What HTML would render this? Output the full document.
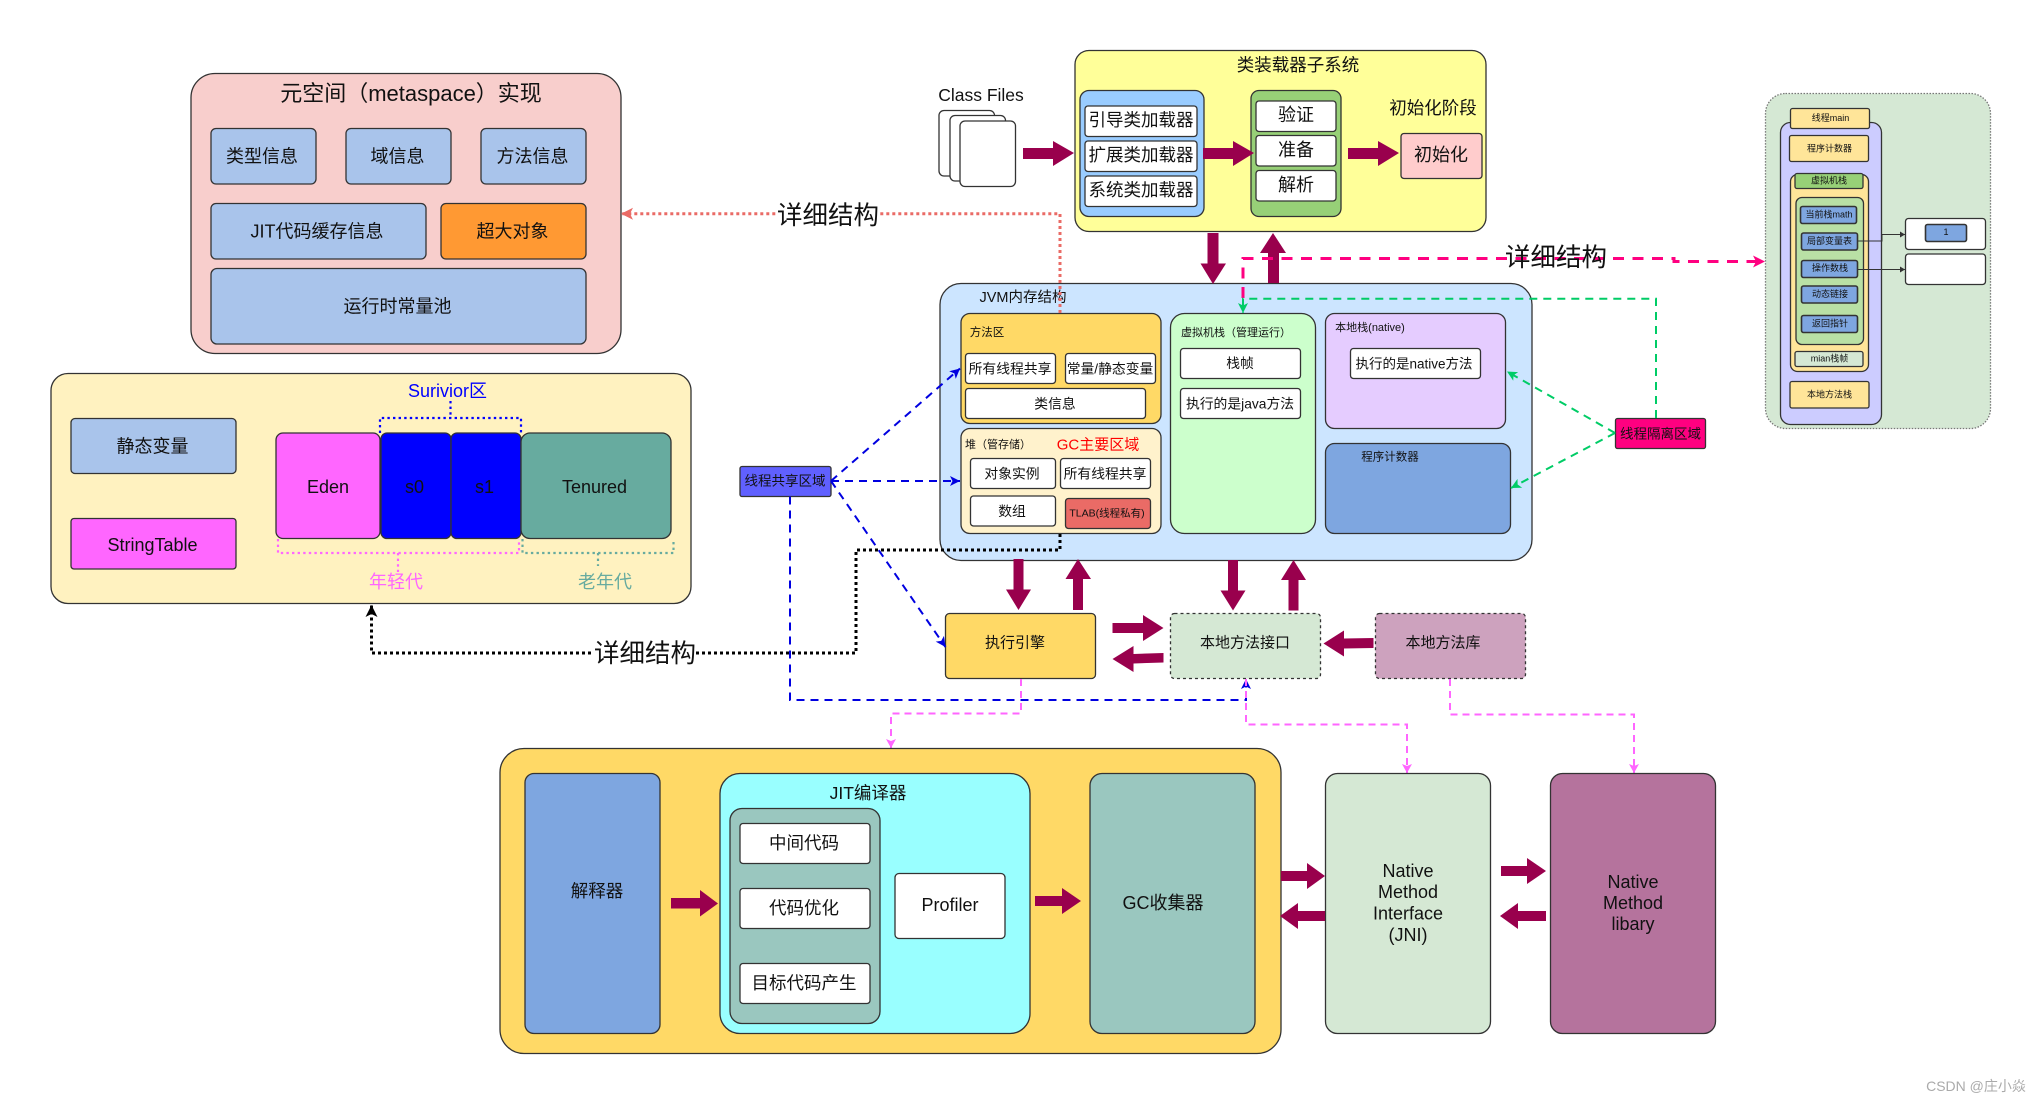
<!DOCTYPE html>
<html><head><meta charset="utf-8"><style>
html,body{margin:0;padding:0;background:#fff;width:2041px;height:1103px;overflow:hidden}
svg{display:block}
text{font-family:"Liberation Sans","Noto Sans CJK SC",sans-serif;text-anchor:middle;dominant-baseline:central;fill:#111}
rect{stroke:#333;stroke-width:1.3}
.a{fill:#99004d;stroke:none}
.l{fill:none}
.w{fill:#fff}
.s{font-size:9px}
.sb{fill:#7ea6e0;stroke-width:1.6}
.y{fill:#ffe599}
</style></head><body>
<svg width="2041" height="1103" viewBox="0 0 2041 1103" xmlns="http://www.w3.org/2000/svg">
<defs>
<marker id="mr" markerUnits="userSpaceOnUse" markerWidth="14" markerHeight="14" refX="12" refY="7" orient="auto"><path d="M0,1 L12,7 L0,13 L3,7z" fill="#ea6b66"/></marker>
<marker id="mk" markerUnits="userSpaceOnUse" markerWidth="14" markerHeight="14" refX="12" refY="7" orient="auto"><path d="M0,1 L12,7 L0,13 L3,7z" fill="#000"/></marker>
<marker id="mb" markerUnits="userSpaceOnUse" markerWidth="14" markerHeight="14" refX="11" refY="7" orient="auto"><path d="M1,2 L11,7 L1,12 L3.5,7z" fill="#0000e0"/></marker>
<marker id="mg" markerUnits="userSpaceOnUse" markerWidth="14" markerHeight="14" refX="11" refY="7" orient="auto"><path d="M1,2 L11,7 L1,12 L3.5,7z" fill="#00cc66"/></marker>
<marker id="mp" markerUnits="userSpaceOnUse" markerWidth="14" markerHeight="14" refX="12" refY="7" orient="auto"><path d="M0,1 L12,7 L0,13 L3,7z" fill="#ff0080"/></marker>
<marker id="mm" markerUnits="userSpaceOnUse" markerWidth="12" markerHeight="12" refX="10" refY="6" orient="auto"><path d="M1,1 L10,6 L1,11 L3,6z" fill="#ff66ff"/></marker>
<marker id="md" markerUnits="userSpaceOnUse" markerWidth="8" markerHeight="8" refX="6" refY="4" orient="auto"><path d="M1,1 L6,4 L1,7z" fill="#333"/></marker>
</defs>

<!-- Metaspace -->
<rect x="191" y="73.5" width="430" height="280" rx="24" fill="#f8cecc"/>
<text x="411" y="93.5" font-size="22">元空间（metaspace）实现</text>
<rect x="211" y="128.5" width="105" height="55.5" rx="5" fill="#a9c4eb"/>
<rect x="346" y="128.5" width="105" height="55.5" rx="5" fill="#a9c4eb"/>
<rect x="481" y="128.5" width="105" height="55.5" rx="5" fill="#a9c4eb"/>
<rect x="211" y="203.5" width="215" height="55.5" rx="5" fill="#a9c4eb"/>
<rect x="441" y="203.5" width="145" height="55.5" rx="5" fill="#ff9933"/>
<rect x="211" y="268.5" width="375" height="75.5" rx="6" fill="#a9c4eb"/>
<text x="262" y="156.5" font-size="18">类型信息</text>
<text x="397.5" y="156.5" font-size="18">域信息</text>
<text x="532.5" y="156.5" font-size="18">方法信息</text>
<text x="317" y="231.5" font-size="18">JIT代码缓存信息</text>
<text x="512.5" y="231.5" font-size="18">超大对象</text>
<text x="397.5" y="306.5" font-size="18">运行时常量池</text>

<!-- Heap detail -->
<rect x="51" y="373.5" width="640" height="230" rx="17" fill="#fff2c0"/>
<rect x="71" y="418.5" width="165" height="55" rx="4" fill="#a9c4eb"/>
<rect x="71" y="518.5" width="165" height="50.5" rx="3" fill="#ff66ff"/>
<text x="152.5" y="446.5" font-size="18">静态变量</text>
<text x="152.5" y="545" font-size="18">StringTable</text>
<rect x="276" y="433" width="104" height="105.5" rx="7" fill="#ff66ff"/>
<rect x="381" y="433" width="70" height="105.5" rx="6" fill="#0000ff"/>
<rect x="451" y="433" width="70" height="105.5" rx="6" fill="#0000ff"/>
<rect x="521" y="433" width="150" height="105.5" rx="9" fill="#67ab9f"/>
<text x="328" y="487" font-size="18">Eden</text>
<text x="414.5" y="487" font-size="18">s0</text>
<text x="484.5" y="487" font-size="18">s1</text>
<text x="594.5" y="487" font-size="18">Tenured</text>
<text x="447.5" y="391" font-size="18" style="fill:#0000ff">Surivior区</text>
<path class="l" d="M380,433 V418 H521 V433 M450.5,401 V418" stroke="#0000ff" stroke-width="2.2" stroke-dasharray="2.4 3.2"/>
<path class="l" d="M278,539 V553 H519 V539 M398,553 V572" stroke="#ff66ff" stroke-width="2.2" stroke-dasharray="2.4 3.2"/>
<path class="l" d="M522.5,539 V553 H673.5 V539 M598,553 V566" stroke="#67ab9f" stroke-width="2.2" stroke-dasharray="2.4 3.2"/>
<text x="396" y="582" font-size="18" style="fill:#ff66ff">年轻代</text>
<text x="605" y="582" font-size="18" style="fill:#67ab9f">老年代</text>

<g transform="translate(-6 0)">
<!-- Class files -->
<text x="987" y="95" font-size="17.5">Class Files</text>
<rect x="945" y="110.5" width="55.5" height="65.5" rx="5" class="w"/>
<rect x="956" y="115.5" width="55.5" height="65.5" rx="5" class="w"/>
<rect x="966" y="121" width="55.5" height="65.5" rx="5" class="w"/>

<!-- Class loader -->
<rect x="1081" y="50.5" width="411" height="181" rx="14" fill="#ffff99"/>
<text x="1304" y="65" font-size="17.5">类装载器子系统</text>
<rect x="1086" y="90.5" width="124" height="126" rx="9" fill="#99ccff"/>
<rect x="1091" y="106" width="112" height="30.5" rx="3" class="w" stroke-width="1.8"/>
<rect x="1091" y="141" width="112" height="30.5" rx="3" class="w" stroke-width="1.8"/>
<rect x="1091" y="176" width="112" height="30.5" rx="3" class="w" stroke-width="1.8"/>
<text x="1147" y="120" font-size="17.5">引导类加载器</text>
<text x="1147" y="155" font-size="17.5">扩展类加载器</text>
<text x="1147" y="190" font-size="17.5">系统类加载器</text>
<rect x="1257" y="90.5" width="90" height="126" rx="8" fill="#97d077"/>
<rect x="1262" y="101" width="80" height="30.5" rx="3" class="w" stroke-width="1.8"/>
<rect x="1262" y="135.5" width="80" height="30.5" rx="3" class="w" stroke-width="1.8"/>
<rect x="1262" y="170.5" width="80" height="30.5" rx="3" class="w" stroke-width="1.8"/>
<text x="1302" y="115" font-size="18">验证</text>
<text x="1302" y="150" font-size="18">准备</text>
<text x="1302" y="185" font-size="18">解析</text>
<text x="1439" y="108" font-size="17.5">初始化阶段</text>
<rect x="1407" y="133.5" width="81" height="45" rx="3" fill="#ffcccc"/>
<text x="1447" y="155" font-size="18">初始化</text>
<polygon class="a" points="1029,148 1059,148 1059,141 1080,153 1059,166 1059,159 1029,159"/>
<polygon class="a" points="1209,148 1239,148 1239,141 1260,153 1239,166 1239,159 1209,159"/>
<polygon class="a" points="1354,148 1384,148 1384,141 1405,153 1384,166 1384,159 1354,159"/>

<!-- JVM -->
<rect x="946" y="283.5" width="592" height="277" rx="21" fill="#cce5ff"/>
<text x="1029" y="298" font-size="14.5">JVM内存结构</text>
<rect x="967" y="313.5" width="200" height="110" rx="9" fill="#ffd966"/>
<text x="993" y="333" font-size="11.5">方法区</text>
<rect x="971.5" y="353.5" width="90" height="30" rx="3" class="w" stroke="#888"/>
<rect x="1071.5" y="353.5" width="90" height="30" rx="3" class="w"/>
<rect x="971.5" y="388.5" width="180" height="30" rx="3" class="w"/>
<text x="1016" y="369" font-size="13.8">所有线程共享</text>
<text x="1116" y="369" font-size="13.8">常量/静态变量</text>
<text x="1061" y="404" font-size="13.8">类信息</text>
<rect x="967" y="428.5" width="200" height="105" rx="9" fill="#fff2cc"/>
<text x="1004" y="445" font-size="11">堆（管存储）</text>
<text x="1104" y="445" font-size="15" style="fill:#ff0000">GC主要区域</text>
<rect x="976.5" y="458.5" width="85" height="30" rx="3" class="w"/>
<rect x="1066.5" y="458.5" width="90" height="30" rx="3" class="w"/>
<rect x="976.5" y="496" width="85" height="30" rx="3" class="w"/>
<rect x="1071.5" y="498.5" width="85" height="30" rx="3" fill="#ea6b66"/>
<text x="1018" y="474" font-size="13.8">对象实例</text>
<text x="1111" y="474" font-size="13.8">所有线程共享</text>
<text x="1018" y="511.5" font-size="13.8">数组</text>
<text x="1113" y="513.5" font-size="10.5">TLAB(线程私有)</text>
<rect x="1176.5" y="313.5" width="145" height="220" rx="14" fill="#ccffcc"/>
<text x="1242" y="333" font-size="11">虚拟机栈（管理运行）</text>
<rect x="1186.5" y="348.5" width="120" height="30" rx="3" class="w"/>
<rect x="1186.5" y="388.5" width="120" height="30" rx="3" class="w"/>
<text x="1246" y="363.5" font-size="13.8">栈帧</text>
<text x="1246" y="404" font-size="13.8">执行的是java方法</text>
<rect x="1331.5" y="313.5" width="180" height="115" rx="9" fill="#e5ccff"/>
<text x="1376" y="328" font-size="11">本地栈(native)</text>
<rect x="1356.5" y="348.5" width="130" height="30" rx="3" class="w"/>
<text x="1420" y="364" font-size="13.5">执行的是native方法</text>
<rect x="1331.5" y="443.5" width="185" height="90" rx="9" fill="#7ea6e0"/>
<text x="1396" y="457.5" font-size="11.5">程序计数器</text>

<polygon class="a" points="1213.5,233 1224.5,233 1224.5,263.5 1232,263.5 1219,284 1206.5,263.5 1213.5,263.5"/>
<polygon class="a" points="1274,283 1285,283 1285,253 1292,253 1279,233 1266,253 1274,253"/>

<!-- shared / isolate -->
<rect x="746" y="466.5" width="91" height="30" rx="2" fill="#6060ff"/>
<text x="791" y="481" font-size="13.5">线程共享区域</text>
<rect x="1621.5" y="418.5" width="90" height="30" rx="2" fill="#ff0080"/>
<text x="1666.5" y="434" font-size="13.5">线程隔离区域</text>

<!-- exec row -->
<rect x="951.5" y="613.5" width="150" height="65" rx="4" fill="#ffd966"/>
<text x="1021" y="643" font-size="15">执行引擎</text>
<rect x="1176.5" y="613.5" width="150" height="65" rx="4" fill="#d5e8d4" stroke-dasharray="3 3"/>
<text x="1251" y="643" font-size="15">本地方法接口</text>
<rect x="1381.5" y="613.5" width="150" height="65" rx="4" fill="#cda2be" stroke-dasharray="3 3"/>
<text x="1449" y="643" font-size="15">本地方法库</text>

<polygon class="a" points="1019.5,559 1029.5,559 1029.5,589.5 1037,589.5 1024.5,610 1012,589.5 1019.5,589.5"/>
<polygon class="a" points="1079,610 1089,610 1089,579 1097,579 1084,559 1071.5,579 1079,579"/>
<polygon class="a" points="1234,560 1244,560 1244,590.5 1251.5,590.5 1239,610.5 1226.5,590.5 1234,590.5"/>
<polygon class="a" points="1294.5,610.5 1304.5,610.5 1304.5,580 1312,580 1299.5,560 1287,580 1294.5,580"/>
<polygon class="a" points="1118.5,623 1149,623 1149,615 1169.5,628 1149,641 1149,633 1118.5,633"/>
<polygon class="a" points="1169.5,653 1139.5,654 1139.5,646 1118.5,659 1139.5,672 1139.5,663.5 1169.5,662.5"/>
<polygon class="a" points="1379.5,638 1350,638.5 1350,630.5 1329.5,643.5 1350,656.5 1350,648.5 1379.5,648"/>

<!-- Connectors -->
<path class="l" d="M1066,313 V213.7 H627" stroke="#ea6b66" stroke-width="3" stroke-dasharray="3 3" marker-end="url(#mr)"/>
<path class="l" d="M1066,534 V550 H862 V653 H377.5 V605" stroke="#000" stroke-width="3" stroke-dasharray="3 3" marker-end="url(#mk)"/>
<path class="l" d="M837,481 L966,368.5" stroke="#0000e0" stroke-width="2" stroke-dasharray="8 6" marker-end="url(#mb)"/>
<path class="l" d="M837,481 H966" stroke="#0000e0" stroke-width="2" stroke-dasharray="8 6" marker-end="url(#mb)"/>
<path class="l" d="M837,481 L951.5,647" stroke="#0000e0" stroke-width="2" stroke-dasharray="8 6" marker-end="url(#mb)"/>
<path class="l" d="M796,496.5 V700 H1252 V679" stroke="#0000e0" stroke-width="2" stroke-dasharray="8 6" marker-end="url(#mb)"/>
<path class="l" d="M1249,298 V258.5 H1680 V261.5 H1771" stroke="#ff0080" stroke-width="3" stroke-dasharray="11 8.5" marker-end="url(#mp)"/>
<path class="l" d="M1662,418 V298.7 H1249 V313" stroke="#00cc66" stroke-width="2" stroke-dasharray="8 6" marker-end="url(#mg)"/>
<path class="l" d="M1621,433 L1513,371.5" stroke="#00cc66" stroke-width="2" stroke-dasharray="8 6" marker-end="url(#mg)"/>
<path class="l" d="M1621,433 L1517,488" stroke="#00cc66" stroke-width="2" stroke-dasharray="8 6" marker-end="url(#mg)"/>
<path class="l" d="M1027,679 V713.5 H897 V748" stroke="#ff66ff" stroke-width="2" stroke-dasharray="7 5" marker-end="url(#mm)"/>
<path class="l" d="M1252,679 V724.5 H1413 V773" stroke="#ff66ff" stroke-width="2" stroke-dasharray="7 5" marker-end="url(#mm)"/>
<path class="l" d="M1456,679 V714.5 H1640 V773" stroke="#ff66ff" stroke-width="2" stroke-dasharray="7 5" marker-end="url(#mm)"/>

<rect x="782" y="199" width="104" height="30" fill="#fff" style="stroke:none"/>
<text x="834" y="216" font-size="25.5">详细结构</text>
<rect x="599" y="639" width="103" height="28" fill="#fff" style="stroke:none"/>
<text x="651" y="654" font-size="25.5">详细结构</text>
<text x="1562" y="258" font-size="25.5">详细结构</text>

<!-- Bottom -->
<rect x="506" y="748.5" width="781" height="305" rx="24" fill="#ffd966"/>
<rect x="531" y="773.5" width="135" height="260" rx="9" fill="#7ea6e0"/>
<text x="603" y="891" font-size="17.5">解释器</text>
<rect x="726" y="773.5" width="310" height="260" rx="20" fill="#99ffff"/>
<text x="874" y="793" font-size="17.5">JIT编译器</text>
<rect x="736" y="808.5" width="150" height="215" rx="12" fill="#9ac7bf"/>
<rect x="746" y="823.5" width="130" height="40" rx="3" class="w"/>
<rect x="746" y="888.5" width="130" height="40" rx="3" class="w"/>
<rect x="746" y="963.5" width="130" height="40" rx="3" class="w"/>
<text x="810" y="843" font-size="17.5">中间代码</text>
<text x="810" y="908" font-size="17.5">代码优化</text>
<text x="810" y="983" font-size="17.5">目标代码产生</text>
<rect x="901" y="873.5" width="110" height="65" rx="4" class="w"/>
<text x="956" y="905" font-size="18">Profiler</text>
<rect x="1096" y="773.5" width="165" height="260" rx="12" fill="#9ac7bf"/>
<text x="1169" y="903" font-size="18">GC收集器</text>
<polygon class="a" points="677,898 706,898 706,890 724,903.5 706,916.5 706,908.5 677,908.5"/>
<polygon class="a" points="1041,896 1068,896 1068,888 1087,901 1068,914 1068,906 1041,906"/>

<rect x="1331.5" y="773.5" width="165" height="260" rx="12" fill="#d5e8d4"/>
<text x="1414" y="871" font-size="18">Native</text>
<text x="1414" y="892" font-size="18">Method</text>
<text x="1414" y="913.5" font-size="18">Interface</text>
<text x="1414" y="935" font-size="18">(JNI)</text>
<rect x="1556.5" y="773.5" width="165" height="260" rx="12" fill="#b5739d"/>
<text x="1639" y="882" font-size="18">Native</text>
<text x="1639" y="903" font-size="18">Method</text>
<text x="1639" y="924" font-size="18">libary</text>
<polygon class="a" points="1287,871 1313,871 1313,863 1331,876 1313,889 1313,881 1287,881"/>
<polygon class="a" points="1331,911 1304,911 1304,903 1286,916 1304,929 1304,921 1331,921"/>
<polygon class="a" points="1507,866 1533,866 1533,858 1552,871 1533,884 1533,876 1507,876"/>
<polygon class="a" points="1552,911 1524,911 1524,903 1506,916 1524,929 1524,921 1552,921"/>

<!-- Right panel -->
<rect x="1771.5" y="93.5" width="225" height="335" rx="20" fill="#d5e8d4" stroke-width="1" stroke-dasharray="1.5 1.5" style="stroke:#777"/>
<rect x="1786.5" y="122.5" width="101" height="302" rx="10" fill="#ccccff" stroke-width="1.5"/>
<rect x="1796.5" y="108.5" width="79" height="20" rx="2" class="y" stroke-width="1.5"/>
<text class="s" x="1836.5" y="118">线程main</text>
<rect x="1795.5" y="135.5" width="79" height="26" rx="2" class="y"/>
<text class="s" x="1835.5" y="148.5">程序计数器</text>
<rect x="1796.5" y="174.5" width="78" height="197" rx="7" class="y"/>
<rect x="1801" y="173.5" width="68" height="15" rx="2" fill="#97d077"/>
<text class="s" x="1835" y="180.5">虚拟机栈</text>
<rect x="1802" y="197.5" width="67.5" height="147" rx="6" fill="#b9e0a5"/>
<rect x="1806.5" y="206.5" width="56" height="17" rx="2" class="sb"/>
<rect x="1807.5" y="233" width="56" height="17" rx="2" class="sb"/>
<rect x="1807.5" y="260.5" width="56" height="17" rx="2" class="sb"/>
<rect x="1807.5" y="286" width="56" height="17" rx="2" class="sb"/>
<rect x="1807.5" y="315.5" width="56" height="17" rx="2" class="sb"/>
<text class="s" x="1835" y="214.5">当前栈math</text>
<text class="s" x="1835.5" y="241">局部变量表</text>
<text class="s" x="1836" y="268">操作数栈</text>
<text class="s" x="1836" y="294">动态链接</text>
<text class="s" x="1836" y="323.5">返回指针</text>
<rect x="1801" y="351.5" width="68" height="15" rx="2" fill="#d5e8d4"/>
<text class="s" x="1835.5" y="358.5">mian栈帧</text>
<rect x="1796" y="381.5" width="79" height="26.5" rx="2" class="y"/>
<text class="s" x="1835.5" y="394.5">本地方法栈</text>
<rect x="1911.5" y="218.5" width="80" height="31" rx="3" class="w"/>
<rect x="1911.5" y="254" width="80" height="30.5" rx="3" class="w" stroke-width="1.8"/>
<rect x="1931.5" y="224.5" width="41" height="17" rx="2" class="sb" stroke-width="1.3"/>
<text class="s" x="1952" y="232">1</text>
<path class="l" d="M1864,241 H1888 V234.5 H1911" stroke="#333" stroke-width="1" marker-end="url(#md)"/>
<path class="l" d="M1864,269.5 H1911" stroke="#333" stroke-width="1" marker-end="url(#md)"/>
</g>

<text x="1976" y="1086" font-size="14" style="fill:#aaa">CSDN @庄小焱</text>
</svg>
</body></html>
